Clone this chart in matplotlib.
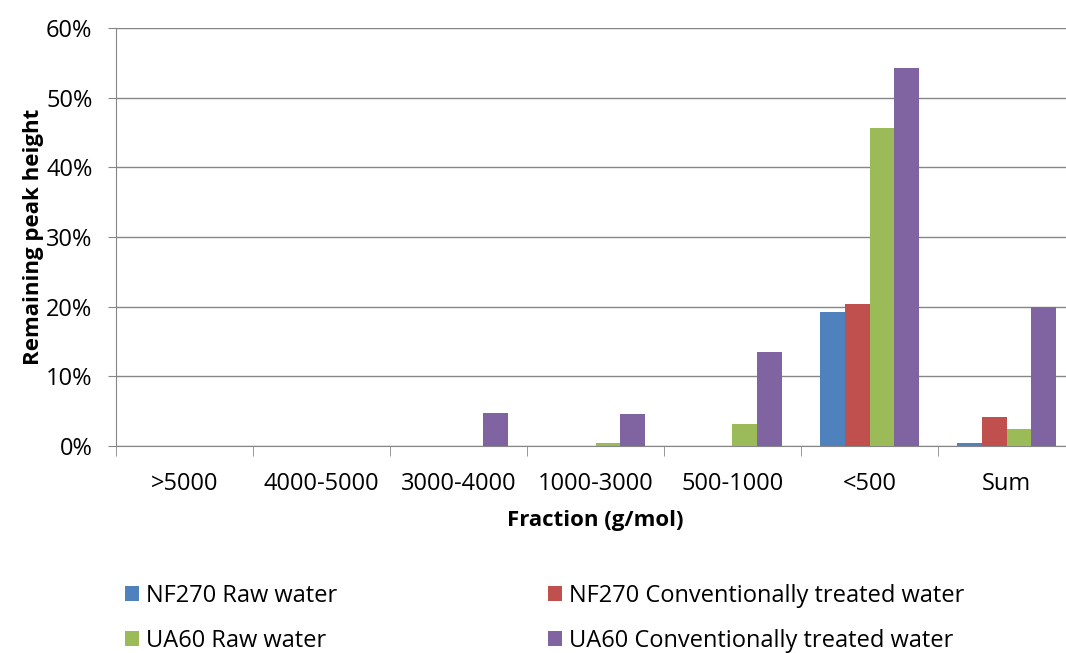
import numpy as np
import matplotlib
matplotlib.use("Agg")
import matplotlib.pyplot as plt
from matplotlib.ticker import PercentFormatter

plt.rcParams['font.family'] = ['Open Sans', 'DejaVu Sans']

# data (fractions, in %)
categories = [">5000", "4000-5000", "3000-4000", "1000-3000", "500-1000", "<500", "Sum"]
series_names = ["NF270 Raw water", "NF270 Conventionally treated water",
                "UA60 Raw water", "UA60 Conventionally treated water"]
nf270_raw = [0, 0, 0, 0, 0, 19.2, 0.4]
nf270_conv = [0, 0, 0, 0, 0, 20.4, 4.1]
ua60_raw = [0, 0, 0, 0.4, 3.1, 45.6, 2.5]
ua60_conv = [0, 0, 4.8, 4.6, 13.5, 54.2, 20.0]
colors = ["#4f81bd", "#c0504d", "#9bbb59", "#8064a2"]

fig = plt.figure(figsize=(10.66, 6.53), dpi=100)
# plot area runs a little past the right edge (the original is cropped there)
ax = fig.add_axes([116/1066, 1 - 446/653, 959/1066, 418/653])

x = np.arange(len(categories))
w = 0.181
all_series = [nf270_raw, nf270_conv, ua60_raw, ua60_conv]
bars = []
for i, vals in enumerate(all_series):
    b = ax.bar(x + (i - 1.5) * w, vals, width=w, color=colors[i], label=series_names[i],
               zorder=3)
    bars.append(b)

ax.set_xlim(-0.5, len(categories) - 0.5)
ax.set_ylim(0, 60)
ax.set_yticks(np.arange(0, 61, 10))
ax.yaxis.set_major_formatter(PercentFormatter(decimals=0))
ax.set_xticks(x)
ax.set_xticklabels(categories)
ax.set_xticks(np.arange(-0.5, len(categories), 1), minor=True)
ax.grid(axis='y', color='#868686', linewidth=1, zorder=0)

for s in ['top', 'right']:
    ax.spines[s].set_visible(False)
for s in ['left', 'bottom']:
    ax.spines[s].set_color('#868686')
ax.tick_params(axis='y', length=6, color='#868686', labelsize=17, pad=11, direction='out')
ax.tick_params(axis='x', which='major', length=0, labelsize=17, pad=19)
ax.tick_params(axis='x', which='minor', length=7, color='#868686')

ax.set_xlabel("Fraction (g/mol)", fontsize=16, fontweight='bold', labelpad=10)
ax.set_ylabel("Remaining peak height", fontsize=16, fontweight='bold', labelpad=1)

# row-major legend order: matplotlib fills by column, so interleave
order = [0, 2, 1, 3]
fig.legend([bars[i] for i in order], [series_names[i] for i in order],
           loc='lower left', bbox_to_anchor=(104/1066, -0.032), ncol=2, frameon=False,
           fontsize=17, handlelength=0.6, handleheight=0.6, handletextpad=0.3,
           columnspacing=8.9, labelspacing=0.88)

fig.savefig("out.png", dpi=100)
